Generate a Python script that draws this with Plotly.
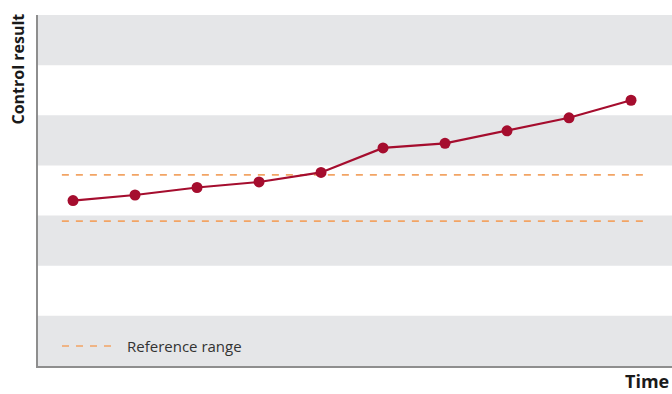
import plotly.graph_objects as go

# Data (band units on the y axis; 7 alternating bands)
time_points = [1, 2, 3, 4, 5, 6, 7, 8, 9, 10]
control_values = [3.30, 3.41, 3.56, 3.67, 3.86, 4.35, 4.44, 4.69, 4.95, 5.30]
ref_low = 2.89
ref_high = 3.81
ref_x = [0.82, 10.23]
band_edges = [0, 1, 2, 3, 4, 5, 6, 7]

RED = "#A50D2E"
ORANGE = "#F2A464"
GRAY = "#E5E6E8"
FONT = "'Open Sans', Lato, sans-serif"

fig = go.Figure()

for yv in (ref_high, ref_low):
    fig.add_trace(go.Scatter(x=ref_x, y=[yv, yv], mode="lines",
                             line=dict(color=ORANGE, width=1.7, dash="7px,7px"),
                             hoverinfo="skip", showlegend=False))

fig.add_trace(go.Scatter(x=time_points, y=control_values, mode="lines+markers",
                         line=dict(color=RED, width=2.2),
                         marker=dict(color=RED, size=11),
                         showlegend=False))

shapes = []
for i in range(0, len(band_edges) - 1, 2):
    shapes.append(dict(type="rect", xref="paper", yref="y", x0=0, x1=1,
                       y0=band_edges[i], y1=band_edges[i + 1],
                       fillcolor=GRAY, line=dict(width=0), layer="below"))
# legend sample
shapes.append(dict(type="line", xref="paper", yref="paper",
                   x0=(62 - 38) / 634, x1=(116 - 38) / 634,
                   y0=(366 - 346) / 351, y1=(366 - 346) / 351,
                   line=dict(color=ORANGE, width=1.7, dash="7px,7px")))

fig.update_layout(
    width=672, height=394,
    margin=dict(l=38, r=0, t=15, b=28),
    paper_bgcolor="white", plot_bgcolor="white",
    shapes=shapes,
    xaxis=dict(range=[0.435, 10.661], showgrid=False, zeroline=False,
               showticklabels=False, ticks="", showline=True,
               linecolor="#8E8E8E", linewidth=1.5),
    yaxis=dict(range=[0, 7], showgrid=False, zeroline=False,
               showticklabels=False, ticks="", showline=True,
               linecolor="#8E8E8E", linewidth=1.5),
    annotations=[
        dict(text="Reference range", xref="paper", yref="paper",
             x=(125 - 38) / 634, y=(366 - 346) / 351, xanchor="left", yanchor="middle",
             showarrow=False, font=dict(family=FONT, size=15, color="#333333")),
        dict(text="<b>Control result</b>", xref="paper", yref="paper",
             x=-(38 - 17) / 634, y=(366 - 12) / 351, xanchor="center", yanchor="top",
             textangle=-90, showarrow=False,
             font=dict(family=FONT, size=16, color="#1a1a1a")),
        dict(text="<b>Time</b>", xref="paper", yref="paper",
             x=1.0, y=-(381 - 366) / 351, xanchor="right", yanchor="middle",
             xshift=-2, showarrow=False, borderpad=0,
             font=dict(family=FONT, size=18, color="#1a1a1a")),
    ],
)

fig.write_html("out.html", post_script="document.body.style.margin='0';",
               config={"displayModeBar": False})
